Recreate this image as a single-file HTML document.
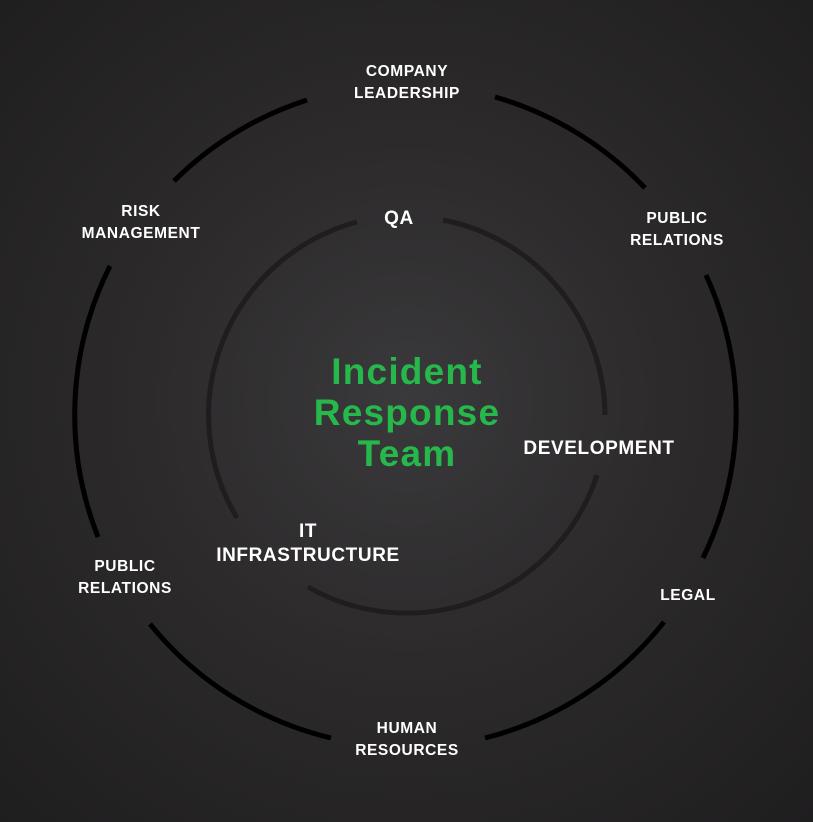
<!DOCTYPE html>
<html><head><style>
html,body{margin:0;padding:0}
body{width:813px;height:822px;overflow:hidden;background:radial-gradient(circle at 407px 400px,#3a393b 0%,#2c2a2b 45%,#1f1e1f 100%);font-family:"Liberation Sans",sans-serif}
svg{position:absolute;left:0;top:0}
.t{position:absolute;color:#fff;font-weight:bold;font-size:15.5px;line-height:22px;text-align:center;letter-spacing:0.6px;transform:translateX(-50%);white-space:nowrap}
.m{font-size:19px;line-height:24px}
.g{position:absolute;left:407px;top:351px;transform:translateX(-50%);color:#27b84c;font-weight:bold;font-size:37px;line-height:41px;text-align:center;letter-spacing:1.2px}
</style></head><body>
<svg width="813" height="822">
<g fill="none" stroke="#000" stroke-width="5">
<path d="M307,100 A332,332 0 0 0 174,181"/>
<path d="M110,266 A332,332 0 0 0 98,537"/>
<path d="M150,624 A332,332 0 0 0 331,738"/>
<path d="M485,738 A332,332 0 0 0 664,622"/>
<path d="M703,558 A332,332 0 0 0 706,275"/>
<path d="M645,188 A332,332 0 0 0 495,97"/>
</g>
<g fill="none" stroke="#1f1d1e" stroke-width="5">
<path d="M357,222 A200,200 0 0 0 237,518"/>
<path d="M308,587 A200,200 0 0 0 597,475"/>
<path d="M605,415 A200,200 0 0 0 443,220"/>
</g>
</svg>
<div class="t" style="left:407px;top:61px">COMPANY<br>LEADERSHIP</div>
<div class="t" style="left:677px;top:208px">PUBLIC<br>RELATIONS</div>
<div class="t" style="left:141px;top:201px">RISK<br>MANAGEMENT</div>
<div class="t" style="left:125px;top:556px">PUBLIC<br>RELATIONS</div>
<div class="t" style="left:688px;top:585px">LEGAL</div>
<div class="t" style="left:407px;top:718px">HUMAN<br>RESOURCES</div>
<div class="t m" style="left:399px;top:207px">QA</div>
<div class="t m" style="left:599px;top:437px">DEVELOPMENT</div>
<div class="t m" style="left:308px;top:520px">IT<br>INFRASTRUCTURE</div>
<div class="g">Incident<br>Response<br>Team</div>
</body></html>
